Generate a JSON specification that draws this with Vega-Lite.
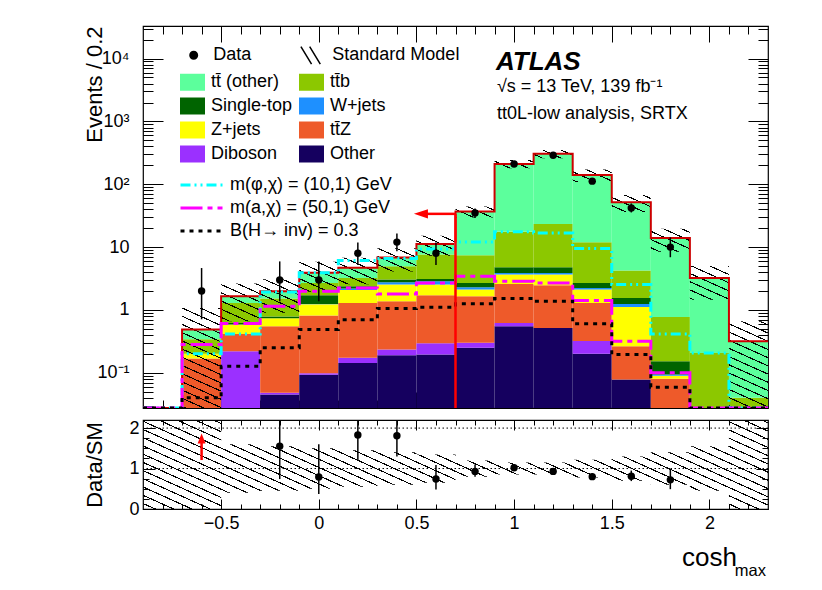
{
  "$schema": "https://vega.github.io/schema/vega-lite/v6.json",
  "background": "white",
  "padding": {"left": 82, "top": 25, "right": 55, "bottom": 0},
  "spacing": 12,
  "bounds": "flush",
  "datasets": {
    "bkg": [
      {"x0": -0.7, "x1": -0.5, "proc": "tt\u0304Z", "n": 0.168},
      {"x0": -0.7, "x1": -0.5, "proc": "Z+jets", "n": 0.032},
      {"x0": -0.7, "x1": -0.5, "proc": "tt\u0304b", "n": 0.14},
      {"x0": -0.7, "x1": -0.5, "proc": "tt\u0304 (other)", "n": 0.15},
      {"x0": -0.5, "x1": -0.3, "proc": "Diboson", "n": 0.22},
      {"x0": -0.5, "x1": -0.3, "proc": "tt\u0304Z", "n": 0.195},
      {"x0": -0.5, "x1": -0.3, "proc": "Z+jets", "n": 0.17},
      {"x0": -0.5, "x1": -0.3, "proc": "Single-top", "n": 0.035},
      {"x0": -0.5, "x1": -0.3, "proc": "tt\u0304b", "n": 0.67},
      {"x0": -0.5, "x1": -0.3, "proc": "tt\u0304 (other)", "n": 0.36},
      {"x0": -0.3, "x1": -0.1, "proc": "Other", "n": 0.045},
      {"x0": -0.3, "x1": -0.1, "proc": "Diboson", "n": 0.003},
      {"x0": -0.3, "x1": -0.1, "proc": "tt\u0304Z", "n": 0.5},
      {"x0": -0.3, "x1": -0.1, "proc": "Z+jets", "n": 0.19},
      {"x0": -0.3, "x1": -0.1, "proc": "Single-top", "n": 0.05},
      {"x0": -0.3, "x1": -0.1, "proc": "tt\u0304b", "n": 0.73},
      {"x0": -0.3, "x1": -0.1, "proc": "tt\u0304 (other)", "n": 0.47},
      {"x0": -0.1, "x1": 0.1, "proc": "Other", "n": 0.093},
      {"x0": -0.1, "x1": 0.1, "proc": "Diboson", "n": 0.005},
      {"x0": -0.1, "x1": 0.1, "proc": "tt\u0304Z", "n": 0.72},
      {"x0": -0.1, "x1": 0.1, "proc": "Z+jets", "n": 0.41},
      {"x0": -0.1, "x1": 0.1, "proc": "W+jets", "n": 0.02},
      {"x0": -0.1, "x1": 0.1, "proc": "Single-top", "n": 0.46},
      {"x0": -0.1, "x1": 0.1, "proc": "tt\u0304b", "n": 0.98},
      {"x0": -0.1, "x1": 0.1, "proc": "tt\u0304 (other)", "n": 1.2},
      {"x0": 0.1, "x1": 0.3, "proc": "Other", "n": 0.143},
      {"x0": 0.1, "x1": 0.3, "proc": "Diboson", "n": 0.03},
      {"x0": 0.1, "x1": 0.3, "proc": "tt\u0304Z", "n": 1.12},
      {"x0": 0.1, "x1": 0.3, "proc": "Z+jets", "n": 0.79},
      {"x0": 0.1, "x1": 0.3, "proc": "W+jets", "n": 0.11},
      {"x0": 0.1, "x1": 0.3, "proc": "Single-top", "n": 0.19},
      {"x0": 0.1, "x1": 0.3, "proc": "tt\u0304b", "n": 0.85},
      {"x0": 0.1, "x1": 0.3, "proc": "tt\u0304 (other)", "n": 1.44},
      {"x0": 0.3, "x1": 0.5, "proc": "Other", "n": 0.19},
      {"x0": 0.3, "x1": 0.5, "proc": "Diboson", "n": 0.044},
      {"x0": 0.3, "x1": 0.5, "proc": "tt\u0304Z", "n": 1.14},
      {"x0": 0.3, "x1": 0.5, "proc": "Z+jets", "n": 1.16},
      {"x0": 0.3, "x1": 0.5, "proc": "W+jets", "n": 0.22},
      {"x0": 0.3, "x1": 0.5, "proc": "Single-top", "n": 0.29},
      {"x0": 0.3, "x1": 0.5, "proc": "tt\u0304b", "n": 1.9},
      {"x0": 0.3, "x1": 0.5, "proc": "tt\u0304 (other)", "n": 1.9},
      {"x0": 0.5, "x1": 0.7, "proc": "Other", "n": 0.195},
      {"x0": 0.5, "x1": 0.7, "proc": "Diboson", "n": 0.1},
      {"x0": 0.5, "x1": 0.7, "proc": "tt\u0304Z", "n": 1.41},
      {"x0": 0.5, "x1": 0.7, "proc": "Z+jets", "n": 0.83},
      {"x0": 0.5, "x1": 0.7, "proc": "W+jets", "n": 0.33},
      {"x0": 0.5, "x1": 0.7, "proc": "Single-top", "n": 0.25},
      {"x0": 0.5, "x1": 0.7, "proc": "tt\u0304b", "n": 4.5},
      {"x0": 0.5, "x1": 0.7, "proc": "tt\u0304 (other)", "n": 3.6},
      {"x0": 0.7, "x1": 0.9, "proc": "Other", "n": 0.25},
      {"x0": 0.7, "x1": 0.9, "proc": "Diboson", "n": 0.05},
      {"x0": 0.7, "x1": 0.9, "proc": "tt\u0304Z", "n": 1.35},
      {"x0": 0.7, "x1": 0.9, "proc": "Z+jets", "n": 0.46},
      {"x0": 0.7, "x1": 0.9, "proc": "W+jets", "n": 0.19},
      {"x0": 0.7, "x1": 0.9, "proc": "Single-top", "n": 0.39},
      {"x0": 0.7, "x1": 0.9, "proc": "tt\u0304b", "n": 4.7},
      {"x0": 0.7, "x1": 0.9, "proc": "tt\u0304 (other)", "n": 29.6},
      {"x0": 0.9, "x1": 1.1, "proc": "Other", "n": 0.55},
      {"x0": 0.9, "x1": 1.1, "proc": "Diboson", "n": 0.07},
      {"x0": 0.9, "x1": 1.1, "proc": "tt\u0304Z", "n": 1.97},
      {"x0": 0.9, "x1": 1.1, "proc": "Z+jets", "n": 1.07},
      {"x0": 0.9, "x1": 1.1, "proc": "W+jets", "n": 0.22},
      {"x0": 0.9, "x1": 1.1, "proc": "Single-top", "n": 0.9},
      {"x0": 0.9, "x1": 1.1, "proc": "tt\u0304b", "n": 12.7},
      {"x0": 0.9, "x1": 1.1, "proc": "tt\u0304 (other)", "n": 193.5},
      {"x0": 1.1, "x1": 1.3, "proc": "Other", "n": 0.517},
      {"x0": 1.1, "x1": 1.3, "proc": "tt\u0304Z", "n": 1.95},
      {"x0": 1.1, "x1": 1.3, "proc": "Z+jets", "n": 1.19},
      {"x0": 1.1, "x1": 1.3, "proc": "W+jets", "n": 0.22},
      {"x0": 1.1, "x1": 1.3, "proc": "Single-top", "n": 0.9},
      {"x0": 1.1, "x1": 1.3, "proc": "tt\u0304b", "n": 18.6},
      {"x0": 1.1, "x1": 1.3, "proc": "tt\u0304 (other)", "n": 281.6},
      {"x0": 1.3, "x1": 1.5, "proc": "Other", "n": 0.2},
      {"x0": 1.3, "x1": 1.5, "proc": "Diboson", "n": 0.12},
      {"x0": 1.3, "x1": 1.5, "proc": "tt\u0304Z", "n": 0.97},
      {"x0": 1.3, "x1": 1.5, "proc": "Z+jets", "n": 0.82},
      {"x0": 1.3, "x1": 1.5, "proc": "W+jets", "n": 0.13},
      {"x0": 1.3, "x1": 1.5, "proc": "Single-top", "n": 0.45},
      {"x0": 1.3, "x1": 1.5, "proc": "tt\u0304b", "n": 9.3},
      {"x0": 1.3, "x1": 1.5, "proc": "tt\u0304 (other)", "n": 128},
      {"x0": 1.5, "x1": 1.7, "proc": "Other", "n": 0.078},
      {"x0": 1.5, "x1": 1.7, "proc": "tt\u0304Z", "n": 0.186},
      {"x0": 1.5, "x1": 1.7, "proc": "Z+jets", "n": 0.85},
      {"x0": 1.5, "x1": 1.7, "proc": "W+jets", "n": 0.13},
      {"x0": 1.5, "x1": 1.7, "proc": "Single-top", "n": 0.3},
      {"x0": 1.5, "x1": 1.7, "proc": "tt\u0304b", "n": 2.69},
      {"x0": 1.5, "x1": 1.7, "proc": "tt\u0304 (other)", "n": 47.7},
      {"x0": 1.7, "x1": 1.9, "proc": "tt\u0304Z", "n": 0.08},
      {"x0": 1.7, "x1": 1.9, "proc": "Z+jets", "n": 0.01},
      {"x0": 1.7, "x1": 1.9, "proc": "W+jets", "n": 0.004},
      {"x0": 1.7, "x1": 1.9, "proc": "Single-top", "n": 0.059},
      {"x0": 1.7, "x1": 1.9, "proc": "tt\u0304b", "n": 0.62},
      {"x0": 1.7, "x1": 1.9, "proc": "tt\u0304 (other)", "n": 13.2},
      {"x0": 1.9, "x1": 2.1, "proc": "tt\u0304b", "n": 0.207},
      {"x0": 1.9, "x1": 2.1, "proc": "tt\u0304 (other)", "n": 3.02},
      {"x0": 2.1, "x1": 2.3, "proc": "tt\u0304b", "n": 0.04},
      {"x0": 2.1, "x1": 2.3, "proc": "tt\u0304 (other)", "n": 0.278}
    ],
    "unc": [
      {"x": -0.7, "lo": 0.0275, "hi": 1.07},
      {"x": -0.5, "lo": 0.66, "hi": 2.64},
      {"x": -0.3, "lo": 0.9, "hi": 3.08},
      {"x": -0.1, "lo": 1.95, "hi": 5.83},
      {"x": 0.1, "lo": 2.57, "hi": 6.77},
      {"x": 0.3, "lo": 4.1, "hi": 9.58},
      {"x": 0.5, "lo": 7.28, "hi": 15.1},
      {"x": 0.7, "lo": 29.6, "hi": 44.4},
      {"x": 0.9, "lo": 179, "hi": 243},
      {"x": 1.1, "lo": 259, "hi": 351},
      {"x": 1.3, "lo": 109, "hi": 171},
      {"x": 1.5, "lo": 36.3, "hi": 67.5},
      {"x": 1.7, "lo": 8.4, "hi": 19.6},
      {"x": 1.9, "lo": 1.45, "hi": 5.0},
      {"x": 2.1, "lo": 0.0275, "hi": 0.66},
      {"x": 2.3, "lo": 0.0275, "hi": 0.66}
    ],
    "sm": [
      {"x": -0.9, "v": 0.0275}, {"x": -0.7, "v": 0.49}, {"x": -0.5, "v": 1.65}, {"x": -0.3, "v": 1.99},
      {"x": -0.1, "v": 3.89}, {"x": 0.1, "v": 4.67}, {"x": 0.3, "v": 6.84}, {"x": 0.5, "v": 11.2},
      {"x": 0.7, "v": 37}, {"x": 0.9, "v": 211}, {"x": 1.1, "v": 305}, {"x": 1.3, "v": 140},
      {"x": 1.5, "v": 51.9}, {"x": 1.7, "v": 14.0}, {"x": 1.9, "v": 3.23}, {"x": 2.1, "v": 0.318},
      {"x": 2.3, "v": 0.318}
    ],
    "sig": [
      {"x": -0.9, "sig": "m(φ,χ) = (10,1) GeV", "v": 0.0275},
      {"x": -0.7, "sig": "m(φ,χ) = (10,1) GeV", "v": 0.2},
      {"x": -0.5, "sig": "m(φ,χ) = (10,1) GeV", "v": 0.415},
      {"x": -0.3, "sig": "m(φ,χ) = (10,1) GeV", "v": 1.93},
      {"x": -0.1, "sig": "m(φ,χ) = (10,1) GeV", "v": 3.9},
      {"x": 0.1, "sig": "m(φ,χ) = (10,1) GeV", "v": 6.1},
      {"x": 0.3, "sig": "m(φ,χ) = (10,1) GeV", "v": 6.6},
      {"x": 0.5, "sig": "m(φ,χ) = (10,1) GeV", "v": 9.3},
      {"x": 0.7, "sig": "m(φ,χ) = (10,1) GeV", "v": 12.1},
      {"x": 0.9, "sig": "m(φ,χ) = (10,1) GeV", "v": 17.5},
      {"x": 1.1, "sig": "m(φ,χ) = (10,1) GeV", "v": 16.8},
      {"x": 1.3, "sig": "m(φ,χ) = (10,1) GeV", "v": 9.5},
      {"x": 1.5, "sig": "m(φ,χ) = (10,1) GeV", "v": 2.54},
      {"x": 1.7, "sig": "m(φ,χ) = (10,1) GeV", "v": 0.415},
      {"x": 1.9, "sig": "m(φ,χ) = (10,1) GeV", "v": 0.207},
      {"x": 2.1, "sig": "m(φ,χ) = (10,1) GeV", "v": 0.0275},
      {"x": 2.3, "sig": "m(φ,χ) = (10,1) GeV", "v": 0.0275},
      {"x": -0.9, "sig": "m(a,χ) = (50,1) GeV", "v": 0.0275},
      {"x": -0.7, "sig": "m(a,χ) = (50,1) GeV", "v": 0.281},
      {"x": -0.5, "sig": "m(a,χ) = (50,1) GeV", "v": 0.61},
      {"x": -0.3, "sig": "m(a,χ) = (50,1) GeV", "v": 1.14},
      {"x": -0.1, "sig": "m(a,χ) = (50,1) GeV", "v": 1.99},
      {"x": 0.1, "sig": "m(a,χ) = (50,1) GeV", "v": 2.24},
      {"x": 0.3, "sig": "m(a,χ) = (50,1) GeV", "v": 1.8},
      {"x": 0.5, "sig": "m(a,χ) = (50,1) GeV", "v": 2.69},
      {"x": 0.7, "sig": "m(a,χ) = (50,1) GeV", "v": 3.44},
      {"x": 0.9, "sig": "m(a,χ) = (50,1) GeV", "v": 2.86},
      {"x": 1.1, "sig": "m(a,χ) = (50,1) GeV", "v": 2.69},
      {"x": 1.3, "sig": "m(a,χ) = (50,1) GeV", "v": 1.41},
      {"x": 1.5, "sig": "m(a,χ) = (50,1) GeV", "v": 0.318},
      {"x": 1.7, "sig": "m(a,χ) = (50,1) GeV", "v": 0.1},
      {"x": 1.9, "sig": "m(a,χ) = (50,1) GeV", "v": 0.0275},
      {"x": 2.1, "sig": "m(a,χ) = (50,1) GeV", "v": 0.0275},
      {"x": 2.3, "sig": "m(a,χ) = (50,1) GeV", "v": 0.0275},
      {"x": -0.9, "sig": "B(H→ inv) = 0.3", "v": 0.0275},
      {"x": -0.7, "sig": "B(H→ inv) = 0.3", "v": 0.04},
      {"x": -0.5, "sig": "B(H→ inv) = 0.3", "v": 0.127},
      {"x": -0.3, "sig": "B(H→ inv) = 0.3", "v": 0.25},
      {"x": -0.1, "sig": "B(H→ inv) = 0.3", "v": 0.49},
      {"x": 0.1, "sig": "B(H→ inv) = 0.3", "v": 0.7},
      {"x": 0.3, "sig": "B(H→ inv) = 0.3", "v": 1.05},
      {"x": 0.5, "sig": "B(H→ inv) = 0.3", "v": 1.1},
      {"x": 0.7, "sig": "B(H→ inv) = 0.3", "v": 1.25},
      {"x": 0.9, "sig": "B(H→ inv) = 0.3", "v": 1.52},
      {"x": 1.1, "sig": "B(H→ inv) = 0.3", "v": 1.38},
      {"x": 1.3, "sig": "B(H→ inv) = 0.3", "v": 0.6},
      {"x": 1.5, "sig": "B(H→ inv) = 0.3", "v": 0.195},
      {"x": 1.7, "sig": "B(H→ inv) = 0.3", "v": 0.059},
      {"x": 1.9, "sig": "B(H→ inv) = 0.3", "v": 0.0275},
      {"x": 2.1, "sig": "B(H→ inv) = 0.3", "v": 0.0275},
      {"x": 2.3, "sig": "B(H→ inv) = 0.3", "v": 0.0275}
    ],
    "data": [
      {"x": -0.6, "n": 2, "lo": 0.71, "hi": 4.64, "src": "Data"},
      {"x": -0.2, "n": 3, "lo": 1.37, "hi": 5.92, "src": "Data"},
      {"x": 0.0, "n": 3, "lo": 1.37, "hi": 5.92, "src": "Data"},
      {"x": 0.2, "n": 8, "lo": 5.2, "hi": 11.8, "src": "Data"},
      {"x": 0.4, "n": 12, "lo": 8.6, "hi": 16.5, "src": "Data"},
      {"x": 0.6, "n": 8, "lo": 5.2, "hi": 11.8, "src": "Data"},
      {"x": 0.8, "n": 35, "lo": 29.1, "hi": 41.0, "src": "Data"},
      {"x": 1.0, "n": 210, "lo": 195.6, "hi": 225.0, "src": "Data"},
      {"x": 1.2, "n": 290, "lo": 273.1, "hi": 307.6, "src": "Data"},
      {"x": 1.4, "n": 112, "lo": 101.5, "hi": 123.1, "src": "Data"},
      {"x": 1.6, "n": 42, "lo": 35.6, "hi": 49.5, "src": "Data"},
      {"x": 1.8, "n": 10, "lo": 6.9, "hi": 14.3, "src": "Data"}
    ],
    "ratio": [
      {"x": -0.2, "r": 1.55, "lo": 0.74, "hi": 2.97},
      {"x": 0.0, "r": 0.79, "lo": 0.37, "hi": 1.6},
      {"x": 0.2, "r": 1.83, "lo": 1.21, "hi": 2.7},
      {"x": 0.4, "r": 1.81, "lo": 1.3, "hi": 2.5},
      {"x": 0.6, "r": 0.74, "lo": 0.48, "hi": 1.09},
      {"x": 0.8, "r": 0.93, "lo": 0.8, "hi": 1.1},
      {"x": 1.0, "r": 1.02, "lo": 0.95, "hi": 1.09},
      {"x": 1.2, "r": 0.93, "lo": 0.88, "hi": 0.99},
      {"x": 1.4, "r": 0.8, "lo": 0.73, "hi": 0.88},
      {"x": 1.6, "r": 0.81, "lo": 0.69, "hi": 0.95},
      {"x": 1.8, "r": 0.72, "lo": 0.49, "hi": 0.98}
    ],
    "rband": [
      {"x": -0.9, "lo": 0, "hi": 2.2},
      {"x": -0.7, "lo": 0, "hi": 2.2},
      {"x": -0.5, "lo": 0.4, "hi": 1.6},
      {"x": -0.3, "lo": 0.45, "hi": 1.55},
      {"x": -0.1, "lo": 0.5, "hi": 1.5},
      {"x": 0.1, "lo": 0.55, "hi": 1.45},
      {"x": 0.3, "lo": 0.6, "hi": 1.4},
      {"x": 0.5, "lo": 0.65, "hi": 1.35},
      {"x": 0.7, "lo": 0.8, "hi": 1.2},
      {"x": 0.9, "lo": 0.85, "hi": 1.15},
      {"x": 1.1, "lo": 0.85, "hi": 1.15},
      {"x": 1.3, "lo": 0.78, "hi": 1.22},
      {"x": 1.5, "lo": 0.7, "hi": 1.3},
      {"x": 1.7, "lo": 0.6, "hi": 1.4},
      {"x": 1.9, "lo": 0.45, "hi": 1.55},
      {"x": 2.1, "lo": 0, "hi": 2.2},
      {"x": 2.3, "lo": 0, "hi": 2.2}
    ]
  },
  "vconcat": [
    {
      "width": 625,
      "height": 382,
      "layer": [
        {
          "layer": [
            {
              "data": {"name": "bkg"},
              "transform": [
                {"calculate": "indexof(['Other','Diboson','tt\u0304Z','Z+jets','W+jets','Single-top','tt\u0304b','tt\u0304 (other)'], datum.proc)", "as": "k"},
                {"stack": "n", "groupby": ["x0"], "sort": [{"field": "k", "order": "ascending"}], "as": ["n0", "n1"]}
              ],
              "mark": {"type": "bar", "clip": true},
              "encoding": {
                "x": {
                  "field": "x0", "type": "quantitative",
                  "scale": {"domain": [-0.9, 2.3], "nice": false, "zero": false},
                  "axis": {"orient": "bottom", "labels": false, "title": null, "domain": false, "ticks": false, "tickSize": 0,
                    "values": [-0.5, 0, 0.5, 1, 1.5, 2],
                    "grid": true, "gridColor": "black", "gridWidth": 1, "gridOpacity": 1, "gridDash": [16, 350, 16, 2000]}
                },
                "x2": {"field": "x1"},
                "y": {
                  "field": "n1", "type": "quantitative",
                  "scale": {"type": "log", "domain": [0.0275, 33000], "nice": false, "clamp": true},
                  "axis": {
                    "orient": "left", "title": "Events / 0.2", "titleAnchor": "end", "titleX": -42, "titleBaseline": "alphabetic",
                    "domain": false, "ticks": false, "tickSize": 0, "labelPadding": 14,
                    "values": [0.1, 1, 10, 100, 1000, 10000],
                    "labelExpr": "datum.value==10000?'10⁴':datum.value==1000?'10³':datum.value==100?'10²':datum.value==10?'10':datum.value==1?'1':'10⁻¹'",
                    "grid": true, "gridColor": "black", "gridWidth": 1, "gridOpacity": 1, "gridDash": [20, 585, 20, 2000]
                  }
                },
                "y2": {"field": "n0"},
                "fill": {
                  "field": "proc", "type": "nominal",
                  "scale": {
                    "domain": ["tt\u0304 (other)", "Single-top", "Z+jets", "Diboson", "tt\u0304b", "W+jets", "tt\u0304Z", "Other"],
                    "range": ["#5cff9c", "#006400", "#ffff00", "#9b30ff", "#8cc800", "#1e90ff", "#ee5a2a", "#15005f"]
                  },
                  "legend": {
                    "orient": "none", "legendX": 37, "legendY": 43.5, "columns": 2, "columnPadding": 6, "rowPadding": 2,
                    "symbolType": "M-1,-0.68H1V0.68H-1Z", "symbolSize": 625, "symbolStrokeWidth": 0, "labelOffset": 6, "title": null
                  }
                }
              }
            },
            {
              "data": {"name": "unc"},
              "mark": {
                "type": "area", "orient": "vertical", "interpolate": "step-after", "clip": true, "opacity": 1,
                "fill": {
                  "gradient": "linear", "x1": 1, "y1": 0, "x2": -0.0093, "y2": 0.9905,
                  "stops": [
                    {"offset":0.004,"color":"rgba(0,0,0,0)"},{"offset":0.004,"color":"#000"},{"offset":0.0063,"color":"#000"},{"offset":0.0063,"color":"rgba(0,0,0,0)"},
                    {"offset":0.0197,"color":"rgba(0,0,0,0)"},{"offset":0.0197,"color":"#000"},{"offset":0.022,"color":"#000"},{"offset":0.022,"color":"rgba(0,0,0,0)"},
                    {"offset":0.0355,"color":"rgba(0,0,0,0)"},{"offset":0.0355,"color":"#000"},{"offset":0.0378,"color":"#000"},{"offset":0.0378,"color":"rgba(0,0,0,0)"},
                    {"offset":0.0512,"color":"rgba(0,0,0,0)"},{"offset":0.0512,"color":"#000"},{"offset":0.0535,"color":"#000"},{"offset":0.0535,"color":"rgba(0,0,0,0)"},
                    {"offset":0.067,"color":"rgba(0,0,0,0)"},{"offset":0.067,"color":"#000"},{"offset":0.0693,"color":"#000"},{"offset":0.0693,"color":"rgba(0,0,0,0)"},
                    {"offset":0.0827,"color":"rgba(0,0,0,0)"},{"offset":0.0827,"color":"#000"},{"offset":0.085,"color":"#000"},{"offset":0.085,"color":"rgba(0,0,0,0)"},
                    {"offset":0.0985,"color":"rgba(0,0,0,0)"},{"offset":0.0985,"color":"#000"},{"offset":0.1008,"color":"#000"},{"offset":0.1008,"color":"rgba(0,0,0,0)"},
                    {"offset":0.1142,"color":"rgba(0,0,0,0)"},{"offset":0.1142,"color":"#000"},{"offset":0.1165,"color":"#000"},{"offset":0.1165,"color":"rgba(0,0,0,0)"},
                    {"offset":0.13,"color":"rgba(0,0,0,0)"},{"offset":0.13,"color":"#000"},{"offset":0.1323,"color":"#000"},{"offset":0.1323,"color":"rgba(0,0,0,0)"},
                    {"offset":0.1457,"color":"rgba(0,0,0,0)"},{"offset":0.1457,"color":"#000"},{"offset":0.148,"color":"#000"},{"offset":0.148,"color":"rgba(0,0,0,0)"},
                    {"offset":0.1614,"color":"rgba(0,0,0,0)"},{"offset":0.1614,"color":"#000"},{"offset":0.1637,"color":"#000"},{"offset":0.1637,"color":"rgba(0,0,0,0)"},
                    {"offset":0.1772,"color":"rgba(0,0,0,0)"},{"offset":0.1772,"color":"#000"},{"offset":0.1795,"color":"#000"},{"offset":0.1795,"color":"rgba(0,0,0,0)"},
                    {"offset":0.1929,"color":"rgba(0,0,0,0)"},{"offset":0.1929,"color":"#000"},{"offset":0.1952,"color":"#000"},{"offset":0.1952,"color":"rgba(0,0,0,0)"},
                    {"offset":0.2087,"color":"rgba(0,0,0,0)"},{"offset":0.2087,"color":"#000"},{"offset":0.211,"color":"#000"},{"offset":0.211,"color":"rgba(0,0,0,0)"},
                    {"offset":0.2244,"color":"rgba(0,0,0,0)"},{"offset":0.2244,"color":"#000"},{"offset":0.2267,"color":"#000"},{"offset":0.2267,"color":"rgba(0,0,0,0)"},
                    {"offset":0.2402,"color":"rgba(0,0,0,0)"},{"offset":0.2402,"color":"#000"},{"offset":0.2425,"color":"#000"},{"offset":0.2425,"color":"rgba(0,0,0,0)"},
                    {"offset":0.2559,"color":"rgba(0,0,0,0)"},{"offset":0.2559,"color":"#000"},{"offset":0.2582,"color":"#000"},{"offset":0.2582,"color":"rgba(0,0,0,0)"},
                    {"offset":0.2716,"color":"rgba(0,0,0,0)"},{"offset":0.2716,"color":"#000"},{"offset":0.2739,"color":"#000"},{"offset":0.2739,"color":"rgba(0,0,0,0)"},
                    {"offset":0.2874,"color":"rgba(0,0,0,0)"},{"offset":0.2874,"color":"#000"},{"offset":0.2897,"color":"#000"},{"offset":0.2897,"color":"rgba(0,0,0,0)"},
                    {"offset":0.3031,"color":"rgba(0,0,0,0)"},{"offset":0.3031,"color":"#000"},{"offset":0.3054,"color":"#000"},{"offset":0.3054,"color":"rgba(0,0,0,0)"},
                    {"offset":0.3189,"color":"rgba(0,0,0,0)"},{"offset":0.3189,"color":"#000"},{"offset":0.3212,"color":"#000"},{"offset":0.3212,"color":"rgba(0,0,0,0)"},
                    {"offset":0.3346,"color":"rgba(0,0,0,0)"},{"offset":0.3346,"color":"#000"},{"offset":0.3369,"color":"#000"},{"offset":0.3369,"color":"rgba(0,0,0,0)"},
                    {"offset":0.3504,"color":"rgba(0,0,0,0)"},{"offset":0.3504,"color":"#000"},{"offset":0.3527,"color":"#000"},{"offset":0.3527,"color":"rgba(0,0,0,0)"},
                    {"offset":0.3661,"color":"rgba(0,0,0,0)"},{"offset":0.3661,"color":"#000"},{"offset":0.3684,"color":"#000"},{"offset":0.3684,"color":"rgba(0,0,0,0)"},
                    {"offset":0.3819,"color":"rgba(0,0,0,0)"},{"offset":0.3819,"color":"#000"},{"offset":0.3842,"color":"#000"},{"offset":0.3842,"color":"rgba(0,0,0,0)"},
                    {"offset":0.3976,"color":"rgba(0,0,0,0)"},{"offset":0.3976,"color":"#000"},{"offset":0.3999,"color":"#000"},{"offset":0.3999,"color":"rgba(0,0,0,0)"},
                    {"offset":0.4133,"color":"rgba(0,0,0,0)"},{"offset":0.4133,"color":"#000"},{"offset":0.4156,"color":"#000"},{"offset":0.4156,"color":"rgba(0,0,0,0)"},
                    {"offset":0.4291,"color":"rgba(0,0,0,0)"},{"offset":0.4291,"color":"#000"},{"offset":0.4314,"color":"#000"},{"offset":0.4314,"color":"rgba(0,0,0,0)"},
                    {"offset":0.4448,"color":"rgba(0,0,0,0)"},{"offset":0.4448,"color":"#000"},{"offset":0.4471,"color":"#000"},{"offset":0.4471,"color":"rgba(0,0,0,0)"},
                    {"offset":0.4606,"color":"rgba(0,0,0,0)"},{"offset":0.4606,"color":"#000"},{"offset":0.4629,"color":"#000"},{"offset":0.4629,"color":"rgba(0,0,0,0)"},
                    {"offset":0.4763,"color":"rgba(0,0,0,0)"},{"offset":0.4763,"color":"#000"},{"offset":0.4786,"color":"#000"},{"offset":0.4786,"color":"rgba(0,0,0,0)"},
                    {"offset":0.4921,"color":"rgba(0,0,0,0)"},{"offset":0.4921,"color":"#000"},{"offset":0.4944,"color":"#000"},{"offset":0.4944,"color":"rgba(0,0,0,0)"},
                    {"offset":0.5078,"color":"rgba(0,0,0,0)"},{"offset":0.5078,"color":"#000"},{"offset":0.5101,"color":"#000"},{"offset":0.5101,"color":"rgba(0,0,0,0)"},
                    {"offset":0.5236,"color":"rgba(0,0,0,0)"},{"offset":0.5236,"color":"#000"},{"offset":0.5259,"color":"#000"},{"offset":0.5259,"color":"rgba(0,0,0,0)"},
                    {"offset":0.5393,"color":"rgba(0,0,0,0)"},{"offset":0.5393,"color":"#000"},{"offset":0.5416,"color":"#000"},{"offset":0.5416,"color":"rgba(0,0,0,0)"},
                    {"offset":0.555,"color":"rgba(0,0,0,0)"},{"offset":0.555,"color":"#000"},{"offset":0.5573,"color":"#000"},{"offset":0.5573,"color":"rgba(0,0,0,0)"},
                    {"offset":0.5708,"color":"rgba(0,0,0,0)"},{"offset":0.5708,"color":"#000"},{"offset":0.5731,"color":"#000"},{"offset":0.5731,"color":"rgba(0,0,0,0)"},
                    {"offset":0.5865,"color":"rgba(0,0,0,0)"},{"offset":0.5865,"color":"#000"},{"offset":0.5888,"color":"#000"},{"offset":0.5888,"color":"rgba(0,0,0,0)"},
                    {"offset":0.6023,"color":"rgba(0,0,0,0)"},{"offset":0.6023,"color":"#000"},{"offset":0.6046,"color":"#000"},{"offset":0.6046,"color":"rgba(0,0,0,0)"},
                    {"offset":0.618,"color":"rgba(0,0,0,0)"},{"offset":0.618,"color":"#000"},{"offset":0.6203,"color":"#000"},{"offset":0.6203,"color":"rgba(0,0,0,0)"},
                    {"offset":0.6338,"color":"rgba(0,0,0,0)"},{"offset":0.6338,"color":"#000"},{"offset":0.6361,"color":"#000"},{"offset":0.6361,"color":"rgba(0,0,0,0)"},
                    {"offset":0.6495,"color":"rgba(0,0,0,0)"},{"offset":0.6495,"color":"#000"},{"offset":0.6518,"color":"#000"},{"offset":0.6518,"color":"rgba(0,0,0,0)"},
                    {"offset":0.6652,"color":"rgba(0,0,0,0)"},{"offset":0.6652,"color":"#000"},{"offset":0.6675,"color":"#000"},{"offset":0.6675,"color":"rgba(0,0,0,0)"},
                    {"offset":0.681,"color":"rgba(0,0,0,0)"},{"offset":0.681,"color":"#000"},{"offset":0.6833,"color":"#000"},{"offset":0.6833,"color":"rgba(0,0,0,0)"},
                    {"offset":0.6967,"color":"rgba(0,0,0,0)"},{"offset":0.6967,"color":"#000"},{"offset":0.699,"color":"#000"},{"offset":0.699,"color":"rgba(0,0,0,0)"},
                    {"offset":0.7125,"color":"rgba(0,0,0,0)"},{"offset":0.7125,"color":"#000"},{"offset":0.7148,"color":"#000"},{"offset":0.7148,"color":"rgba(0,0,0,0)"},
                    {"offset":0.7282,"color":"rgba(0,0,0,0)"},{"offset":0.7282,"color":"#000"},{"offset":0.7305,"color":"#000"},{"offset":0.7305,"color":"rgba(0,0,0,0)"},
                    {"offset":0.744,"color":"rgba(0,0,0,0)"},{"offset":0.744,"color":"#000"},{"offset":0.7463,"color":"#000"},{"offset":0.7463,"color":"rgba(0,0,0,0)"},
                    {"offset":0.7597,"color":"rgba(0,0,0,0)"},{"offset":0.7597,"color":"#000"},{"offset":0.762,"color":"#000"},{"offset":0.762,"color":"rgba(0,0,0,0)"},
                    {"offset":0.7755,"color":"rgba(0,0,0,0)"},{"offset":0.7755,"color":"#000"},{"offset":0.7778,"color":"#000"},{"offset":0.7778,"color":"rgba(0,0,0,0)"},
                    {"offset":0.7912,"color":"rgba(0,0,0,0)"},{"offset":0.7912,"color":"#000"},{"offset":0.7935,"color":"#000"},{"offset":0.7935,"color":"rgba(0,0,0,0)"},
                    {"offset":0.8069,"color":"rgba(0,0,0,0)"},{"offset":0.8069,"color":"#000"},{"offset":0.8092,"color":"#000"},{"offset":0.8092,"color":"rgba(0,0,0,0)"},
                    {"offset":0.8227,"color":"rgba(0,0,0,0)"},{"offset":0.8227,"color":"#000"},{"offset":0.825,"color":"#000"},{"offset":0.825,"color":"rgba(0,0,0,0)"},
                    {"offset":0.8384,"color":"rgba(0,0,0,0)"},{"offset":0.8384,"color":"#000"},{"offset":0.8407,"color":"#000"},{"offset":0.8407,"color":"rgba(0,0,0,0)"},
                    {"offset":0.8542,"color":"rgba(0,0,0,0)"},{"offset":0.8542,"color":"#000"},{"offset":0.8565,"color":"#000"},{"offset":0.8565,"color":"rgba(0,0,0,0)"},
                    {"offset":0.8699,"color":"rgba(0,0,0,0)"},{"offset":0.8699,"color":"#000"},{"offset":0.8722,"color":"#000"},{"offset":0.8722,"color":"rgba(0,0,0,0)"},
                    {"offset":0.8857,"color":"rgba(0,0,0,0)"},{"offset":0.8857,"color":"#000"},{"offset":0.888,"color":"#000"},{"offset":0.888,"color":"rgba(0,0,0,0)"},
                    {"offset":0.9014,"color":"rgba(0,0,0,0)"},{"offset":0.9014,"color":"#000"},{"offset":0.9037,"color":"#000"},{"offset":0.9037,"color":"rgba(0,0,0,0)"},
                    {"offset":0.9172,"color":"rgba(0,0,0,0)"},{"offset":0.9172,"color":"#000"},{"offset":0.9195,"color":"#000"},{"offset":0.9195,"color":"rgba(0,0,0,0)"},
                    {"offset":0.9329,"color":"rgba(0,0,0,0)"},{"offset":0.9329,"color":"#000"},{"offset":0.9352,"color":"#000"},{"offset":0.9352,"color":"rgba(0,0,0,0)"},
                    {"offset":0.9486,"color":"rgba(0,0,0,0)"},{"offset":0.9486,"color":"#000"},{"offset":0.9509,"color":"#000"},{"offset":0.9509,"color":"rgba(0,0,0,0)"},
                    {"offset":0.9644,"color":"rgba(0,0,0,0)"},{"offset":0.9644,"color":"#000"},{"offset":0.9667,"color":"#000"},{"offset":0.9667,"color":"rgba(0,0,0,0)"},
                    {"offset":0.9801,"color":"rgba(0,0,0,0)"},{"offset":0.9801,"color":"#000"},{"offset":0.9824,"color":"#000"},{"offset":0.9824,"color":"rgba(0,0,0,0)"},
                    {"offset":0.9959,"color":"rgba(0,0,0,0)"},{"offset":0.9959,"color":"#000"},{"offset":0.9982,"color":"#000"},{"offset":0.9982,"color":"rgba(0,0,0,0)"}
                  ]
                }
              },
              "encoding": {
                "x": {"field": "x", "type": "quantitative"},
                "y": {"field": "hi", "type": "quantitative"},
                "y2": {"field": "lo"}
              }
            },
            {
              "data": {"name": "sm"},
              "mark": {"type": "line", "interpolate": "step-after", "clip": true, "color": "#cc0000", "strokeWidth": 2},
              "encoding": {
                "x": {"field": "x", "type": "quantitative"},
                "y": {"field": "v", "type": "quantitative"}
              }
            },
            {
              "data": {"name": "sig"},
              "mark": {"type": "line", "interpolate": "step-after", "clip": true},
              "encoding": {
                "x": {"field": "x", "type": "quantitative"},
                "y": {"field": "v", "type": "quantitative"},
                "stroke": {
                  "field": "sig", "type": "nominal",
                  "scale": {"domain": ["m(φ,χ) = (10,1) GeV", "m(a,χ) = (50,1) GeV", "B(H→ inv) = 0.3"], "range": ["#00ffff", "#ff00ff", "#000000"]},
                  "legend": {"orient": "none", "legendX": 46.5, "legendY": 147, "rowPadding": 2, "symbolType": "M-2,0H2", "symbolSize": 441, "symbolStrokeWidth": 3, "labelOffset": 16.5, "title": null}
                },
                "strokeDash": {
                  "field": "sig", "type": "nominal",
                  "scale": {"domain": ["m(φ,χ) = (10,1) GeV", "m(a,χ) = (50,1) GeV", "B(H→ inv) = 0.3"], "range": [[10, 4, 2, 4, 2, 4], [22, 5, 5, 5], [4, 5]]},
                  "legend": {"orient": "none", "legendX": 46.5, "legendY": 147, "rowPadding": 2, "symbolType": "M-2,0H2", "symbolSize": 441, "symbolStrokeWidth": 3, "labelOffset": 16.5, "title": null}
                },
                "strokeWidth": {
                  "field": "sig", "type": "nominal",
                  "scale": {"domain": ["m(φ,χ) = (10,1) GeV", "m(a,χ) = (50,1) GeV", "B(H→ inv) = 0.3"], "range": [3, 3, 3.5]},
                  "legend": null
                }
              }
            },
            {
              "data": {"name": "data"},
              "mark": {"type": "rule", "color": "black", "strokeWidth": 1.5, "clip": true},
              "encoding": {
                "x": {"field": "x", "type": "quantitative"},
                "y": {"field": "lo", "type": "quantitative"},
                "y2": {"field": "hi"}
              }
            },
            {
              "data": {"name": "data"},
              "mark": {"type": "point", "filled": true, "color": "black", "size": 55, "opacity": 1},
              "encoding": {
                "x": {"field": "x", "type": "quantitative"},
                "y": {"field": "n", "type": "quantitative"}
              }
            },
            {
              "data": {"name": "data"},
              "transform": [{"filter": "false"}],
              "mark": {"type": "point", "filled": true, "color": "black", "opacity": 1},
              "encoding": {
                "x": {"field": "x", "type": "quantitative"},
                "y": {"field": "n", "type": "quantitative"},
                "shape": {
                  "field": "src", "type": "nominal",
                  "scale": {"domain": ["Data"], "range": ["M0,-0.5L0,0.5M-0.36,0A0.36,0.36 0 1,0 0.36,0A0.36,0.36 0 1,0 -0.36,0Z"]},
                  "legend": {"orient": "none", "legendX": 37.2, "legendY": 15.8, "symbolSize": 625, "symbolFillColor": "black", "symbolStrokeColor": "black", "symbolStrokeWidth": 1.5, "symbolOpacity": 1, "labelOffset": 6, "title": null}
                }
              }
            },
            {
              "data": {"name": "data"},
              "transform": [{"filter": "false"}],
              "mark": {"type": "point", "opacity": 1},
              "encoding": {
                "x": {"field": "x", "type": "quantitative"},
                "y": {"field": "n", "type": "quantitative"},
                "opacity": {
                  "field": "src", "type": "ordinal",
                  "scale": {"domain": ["Standard Model"], "range": [1]},
                  "legend": {"orient": "none", "legendX": 156.3, "legendY": 15.8, "symbolType": "M-0.95,-0.7L-0.1,0.7M-0.25,-0.7L0.6,0.7", "symbolSize": 625, "symbolFillColor": "transparent", "symbolStrokeColor": "black", "symbolStrokeWidth": 1.5, "symbolOpacity": 1, "labelOffset": 6, "title": null}
                }
              }
            },
            {
              "data": {"name": "data"},
              "transform": [{"filter": "false"}],
              "mark": {"type": "point", "opacity": 1},
              "encoding": {
                "x": {"field": "x", "type": "quantitative"},
                "y": {"field": "n", "type": "quantitative"},
                "strokeWidth": {
                  "field": "smline", "type": "ordinal",
                  "scale": {"domain": ["Standard Model"], "range": [2.2]},
                  "legend": {"orient": "none", "legendX": 156.3, "legendY": 15.8, "symbolType": "M-1,0H1", "symbolSize": 625, "symbolFillColor": "transparent", "symbolStrokeColor": "#cc0000", "symbolOpacity": 1, "labelOffset": 6, "labelColor": "rgba(0,0,0,0)", "title": null}
                }
              }
            },
            {
              "data": {"values": [{}]},
              "mark": {"type": "rule", "color": "#ff0000", "strokeWidth": 2.5},
              "encoding": {
                "x": {"datum": 0.7},
                "y": {"datum": 0.0275},
                "y2": {"datum": 33.8}
              }
            },
            {
              "data": {"values": [{}]},
              "mark": {"type": "rule", "color": "#ff0000", "strokeWidth": 2.5},
              "encoding": {
                "x": {"datum": 0.7},
                "x2": {"datum": 0.55},
                "y": {"datum": 33.8}
              }
            },
            {
              "data": {"values": [{}]},
              "mark": {"type": "point", "shape": "M-1,0L1,-0.65L1,0.65Z", "filled": true, "color": "#ff0000", "size": 196, "opacity": 1},
              "encoding": {
                "x": {"datum": 0.523},
                "y": {"datum": 33.8}
              }
            },
            {
              "data": {"values": [{}]},
              "mark": {"type": "text", "text": "ATLAS", "fontSize": 26, "fontWeight": "bold", "fontStyle": "italic", "align": "left", "baseline": "alphabetic", "color": "black"},
              "encoding": {
                "x": {"datum": 0.907},
                "y": {"datum": 6510}
              }
            },
            {
              "data": {"values": [{}]},
              "mark": {"type": "text", "text": "√s = 13 TeV, 139 fb⁻¹", "fontSize": 18, "align": "left", "baseline": "alphabetic", "color": "black"},
              "encoding": {
                "x": {"datum": 0.912},
                "y": {"datum": 2939}
              }
            },
            {
              "data": {"values": [{}]},
              "mark": {"type": "text", "text": "tt0L-low analysis, SRTX", "fontSize": 18, "align": "left", "baseline": "alphabetic", "color": "black"},
              "encoding": {
                "x": {"datum": 0.912},
                "y": {"datum": 1093}
              }
            }
          ]
        },
        {
          "data": {"name": "data"},
          "mark": {"type": "point", "opacity": 0},
          "encoding": {
            "x": {
              "field": "x", "type": "quantitative",
              "scale": {"domain": [-0.9, 2.3], "nice": false, "zero": false},
              "axis": {"orient": "top", "labels": false, "title": null, "domain": false, "ticks": false, "tickSize": 0,
                "values": [-0.8,-0.7,-0.6,-0.4,-0.3,-0.2,-0.1,0.1,0.2,0.3,0.4,0.6,0.7,0.8,0.9,1.1,1.2,1.3,1.4,1.6,1.7,1.8,1.9,2.1,2.2],
                "grid": true, "gridColor": "black", "gridWidth": 1, "gridOpacity": 1, "gridDash": [8, 366, 8, 2000]}
            },
            "y": {
              "field": "n", "type": "quantitative",
              "scale": {"type": "log", "domain": [0.0275, 33000], "nice": false, "clamp": true},
              "axis": {"orient": "right", "labels": false, "title": null, "domain": false, "ticks": false, "tickSize": 0,
                "values": [0.03,0.04,0.05,0.06,0.07,0.08,0.09,0.2,0.3,0.4,0.5,0.6,0.7,0.8,0.9,2,3,4,5,6,7,8,9,20,30,40,50,60,70,80,90,200,300,400,500,600,700,800,900,2000,3000,4000,5000,6000,7000,8000,9000,20000,30000],
                "grid": true, "gridColor": "black", "gridWidth": 1, "gridOpacity": 1, "gridDash": [10, 605, 10, 2000]}
            }
          }
        }
      ],
      "resolve": {"scale": {"x": "independent", "y": "independent"}}
    },
    {
      "width": 625,
      "height": 89,
      "layer": [
        {
          "layer": [
            {
              "data": {"name": "rband"},
              "mark": {
                "type": "area", "orient": "vertical", "interpolate": "step-after", "clip": true, "opacity": 1,
                "fill": {
                  "gradient": "linear", "x1": 1, "y1": 0, "x2": -0.1966, "y2": 0.3787,
                  "stops": [
                    {"offset":0.006,"color":"rgba(0,0,0,0)"},{"offset":0.006,"color":"#000"},{"offset":0.0093,"color":"#000"},{"offset":0.0093,"color":"rgba(0,0,0,0)"},
                    {"offset":0.0282,"color":"rgba(0,0,0,0)"},{"offset":0.0282,"color":"#000"},{"offset":0.0315,"color":"#000"},{"offset":0.0315,"color":"rgba(0,0,0,0)"},
                    {"offset":0.0504,"color":"rgba(0,0,0,0)"},{"offset":0.0504,"color":"#000"},{"offset":0.0537,"color":"#000"},{"offset":0.0537,"color":"rgba(0,0,0,0)"},
                    {"offset":0.0726,"color":"rgba(0,0,0,0)"},{"offset":0.0726,"color":"#000"},{"offset":0.0759,"color":"#000"},{"offset":0.0759,"color":"rgba(0,0,0,0)"},
                    {"offset":0.0949,"color":"rgba(0,0,0,0)"},{"offset":0.0949,"color":"#000"},{"offset":0.0982,"color":"#000"},{"offset":0.0982,"color":"rgba(0,0,0,0)"},
                    {"offset":0.1171,"color":"rgba(0,0,0,0)"},{"offset":0.1171,"color":"#000"},{"offset":0.1204,"color":"#000"},{"offset":0.1204,"color":"rgba(0,0,0,0)"},
                    {"offset":0.1393,"color":"rgba(0,0,0,0)"},{"offset":0.1393,"color":"#000"},{"offset":0.1426,"color":"#000"},{"offset":0.1426,"color":"rgba(0,0,0,0)"},
                    {"offset":0.1615,"color":"rgba(0,0,0,0)"},{"offset":0.1615,"color":"#000"},{"offset":0.1648,"color":"#000"},{"offset":0.1648,"color":"rgba(0,0,0,0)"},
                    {"offset":0.1837,"color":"rgba(0,0,0,0)"},{"offset":0.1837,"color":"#000"},{"offset":0.187,"color":"#000"},{"offset":0.187,"color":"rgba(0,0,0,0)"},
                    {"offset":0.2059,"color":"rgba(0,0,0,0)"},{"offset":0.2059,"color":"#000"},{"offset":0.2092,"color":"#000"},{"offset":0.2092,"color":"rgba(0,0,0,0)"},
                    {"offset":0.2281,"color":"rgba(0,0,0,0)"},{"offset":0.2281,"color":"#000"},{"offset":0.2314,"color":"#000"},{"offset":0.2314,"color":"rgba(0,0,0,0)"},
                    {"offset":0.2503,"color":"rgba(0,0,0,0)"},{"offset":0.2503,"color":"#000"},{"offset":0.2536,"color":"#000"},{"offset":0.2536,"color":"rgba(0,0,0,0)"},
                    {"offset":0.2726,"color":"rgba(0,0,0,0)"},{"offset":0.2726,"color":"#000"},{"offset":0.2759,"color":"#000"},{"offset":0.2759,"color":"rgba(0,0,0,0)"},
                    {"offset":0.2948,"color":"rgba(0,0,0,0)"},{"offset":0.2948,"color":"#000"},{"offset":0.2981,"color":"#000"},{"offset":0.2981,"color":"rgba(0,0,0,0)"},
                    {"offset":0.317,"color":"rgba(0,0,0,0)"},{"offset":0.317,"color":"#000"},{"offset":0.3203,"color":"#000"},{"offset":0.3203,"color":"rgba(0,0,0,0)"},
                    {"offset":0.3392,"color":"rgba(0,0,0,0)"},{"offset":0.3392,"color":"#000"},{"offset":0.3425,"color":"#000"},{"offset":0.3425,"color":"rgba(0,0,0,0)"},
                    {"offset":0.3614,"color":"rgba(0,0,0,0)"},{"offset":0.3614,"color":"#000"},{"offset":0.3647,"color":"#000"},{"offset":0.3647,"color":"rgba(0,0,0,0)"},
                    {"offset":0.3836,"color":"rgba(0,0,0,0)"},{"offset":0.3836,"color":"#000"},{"offset":0.3869,"color":"#000"},{"offset":0.3869,"color":"rgba(0,0,0,0)"},
                    {"offset":0.4058,"color":"rgba(0,0,0,0)"},{"offset":0.4058,"color":"#000"},{"offset":0.4091,"color":"#000"},{"offset":0.4091,"color":"rgba(0,0,0,0)"},
                    {"offset":0.428,"color":"rgba(0,0,0,0)"},{"offset":0.428,"color":"#000"},{"offset":0.4313,"color":"#000"},{"offset":0.4313,"color":"rgba(0,0,0,0)"},
                    {"offset":0.4503,"color":"rgba(0,0,0,0)"},{"offset":0.4503,"color":"#000"},{"offset":0.4536,"color":"#000"},{"offset":0.4536,"color":"rgba(0,0,0,0)"},
                    {"offset":0.4725,"color":"rgba(0,0,0,0)"},{"offset":0.4725,"color":"#000"},{"offset":0.4758,"color":"#000"},{"offset":0.4758,"color":"rgba(0,0,0,0)"},
                    {"offset":0.4947,"color":"rgba(0,0,0,0)"},{"offset":0.4947,"color":"#000"},{"offset":0.498,"color":"#000"},{"offset":0.498,"color":"rgba(0,0,0,0)"},
                    {"offset":0.5169,"color":"rgba(0,0,0,0)"},{"offset":0.5169,"color":"#000"},{"offset":0.5202,"color":"#000"},{"offset":0.5202,"color":"rgba(0,0,0,0)"},
                    {"offset":0.5391,"color":"rgba(0,0,0,0)"},{"offset":0.5391,"color":"#000"},{"offset":0.5424,"color":"#000"},{"offset":0.5424,"color":"rgba(0,0,0,0)"},
                    {"offset":0.5613,"color":"rgba(0,0,0,0)"},{"offset":0.5613,"color":"#000"},{"offset":0.5646,"color":"#000"},{"offset":0.5646,"color":"rgba(0,0,0,0)"},
                    {"offset":0.5835,"color":"rgba(0,0,0,0)"},{"offset":0.5835,"color":"#000"},{"offset":0.5868,"color":"#000"},{"offset":0.5868,"color":"rgba(0,0,0,0)"},
                    {"offset":0.6058,"color":"rgba(0,0,0,0)"},{"offset":0.6058,"color":"#000"},{"offset":0.6091,"color":"#000"},{"offset":0.6091,"color":"rgba(0,0,0,0)"},
                    {"offset":0.628,"color":"rgba(0,0,0,0)"},{"offset":0.628,"color":"#000"},{"offset":0.6313,"color":"#000"},{"offset":0.6313,"color":"rgba(0,0,0,0)"},
                    {"offset":0.6502,"color":"rgba(0,0,0,0)"},{"offset":0.6502,"color":"#000"},{"offset":0.6535,"color":"#000"},{"offset":0.6535,"color":"rgba(0,0,0,0)"},
                    {"offset":0.6724,"color":"rgba(0,0,0,0)"},{"offset":0.6724,"color":"#000"},{"offset":0.6757,"color":"#000"},{"offset":0.6757,"color":"rgba(0,0,0,0)"},
                    {"offset":0.6946,"color":"rgba(0,0,0,0)"},{"offset":0.6946,"color":"#000"},{"offset":0.6979,"color":"#000"},{"offset":0.6979,"color":"rgba(0,0,0,0)"},
                    {"offset":0.7168,"color":"rgba(0,0,0,0)"},{"offset":0.7168,"color":"#000"},{"offset":0.7201,"color":"#000"},{"offset":0.7201,"color":"rgba(0,0,0,0)"},
                    {"offset":0.739,"color":"rgba(0,0,0,0)"},{"offset":0.739,"color":"#000"},{"offset":0.7423,"color":"#000"},{"offset":0.7423,"color":"rgba(0,0,0,0)"},
                    {"offset":0.7612,"color":"rgba(0,0,0,0)"},{"offset":0.7612,"color":"#000"},{"offset":0.7645,"color":"#000"},{"offset":0.7645,"color":"rgba(0,0,0,0)"},
                    {"offset":0.7835,"color":"rgba(0,0,0,0)"},{"offset":0.7835,"color":"#000"},{"offset":0.7868,"color":"#000"},{"offset":0.7868,"color":"rgba(0,0,0,0)"},
                    {"offset":0.8057,"color":"rgba(0,0,0,0)"},{"offset":0.8057,"color":"#000"},{"offset":0.809,"color":"#000"},{"offset":0.809,"color":"rgba(0,0,0,0)"},
                    {"offset":0.8279,"color":"rgba(0,0,0,0)"},{"offset":0.8279,"color":"#000"},{"offset":0.8312,"color":"#000"},{"offset":0.8312,"color":"rgba(0,0,0,0)"},
                    {"offset":0.8501,"color":"rgba(0,0,0,0)"},{"offset":0.8501,"color":"#000"},{"offset":0.8534,"color":"#000"},{"offset":0.8534,"color":"rgba(0,0,0,0)"},
                    {"offset":0.8723,"color":"rgba(0,0,0,0)"},{"offset":0.8723,"color":"#000"},{"offset":0.8756,"color":"#000"},{"offset":0.8756,"color":"rgba(0,0,0,0)"},
                    {"offset":0.8945,"color":"rgba(0,0,0,0)"},{"offset":0.8945,"color":"#000"},{"offset":0.8978,"color":"#000"},{"offset":0.8978,"color":"rgba(0,0,0,0)"},
                    {"offset":0.9167,"color":"rgba(0,0,0,0)"},{"offset":0.9167,"color":"#000"},{"offset":0.92,"color":"#000"},{"offset":0.92,"color":"rgba(0,0,0,0)"},
                    {"offset":0.9389,"color":"rgba(0,0,0,0)"},{"offset":0.9389,"color":"#000"},{"offset":0.9422,"color":"#000"},{"offset":0.9422,"color":"rgba(0,0,0,0)"},
                    {"offset":0.9612,"color":"rgba(0,0,0,0)"},{"offset":0.9612,"color":"#000"},{"offset":0.9645,"color":"#000"},{"offset":0.9645,"color":"rgba(0,0,0,0)"},
                    {"offset":0.9834,"color":"rgba(0,0,0,0)"},{"offset":0.9834,"color":"#000"},{"offset":0.9867,"color":"#000"},{"offset":0.9867,"color":"rgba(0,0,0,0)"}
                  ]
                }
              },
              "encoding": {
                "x": {
                  "field": "x", "type": "quantitative",
                  "scale": {"domain": [-0.9, 2.3], "nice": false, "zero": false},
                  "axis": {"orient": "bottom", "title": null, "domain": false, "ticks": false, "tickSize": 0, "values": [-0.5, 0, 0.5, 1, 1.5, 2], "format": "~g", "labelPadding": 5,
                    "grid": true, "gridColor": "black", "gridWidth": 1, "gridOpacity": 1, "gridDash": [10, 69, 10, 2000]}
                },
                "y": {
                  "field": "hi", "type": "quantitative",
                  "scale": {"domain": [0, 2.2], "nice": false, "zero": false},
                  "axis": {
                    "orient": "left", "title": "Data/SM", "titleX": -42, "titleBaseline": "alphabetic",
                    "domain": false, "ticks": false, "tickSize": 0, "labelPadding": 4, "values": [0, 1, 2], "format": "~g",
                    "grid": true, "gridColor": "black", "gridWidth": 1, "gridOpacity": 1, "gridDash": [12, 601, 12, 2000]
                  }
                },
                "y2": {"field": "lo"}
              }
            },
            {
              "data": {"values": [{}]},
              "mark": {"type": "rule", "color": "black", "strokeWidth": 1, "strokeDash": [1.5, 2.5]},
              "encoding": {"y": {"datum": 1}}
            },
            {
              "data": {"values": [{}]},
              "mark": {"type": "rule", "color": "black", "strokeWidth": 1, "strokeDash": [1.5, 2.5]},
              "encoding": {"y": {"datum": 2}}
            },
            {
              "data": {"name": "ratio"},
              "mark": {"type": "rule", "color": "black", "strokeWidth": 1.5, "clip": true},
              "encoding": {
                "x": {"field": "x", "type": "quantitative"},
                "y": {"field": "lo", "type": "quantitative"},
                "y2": {"field": "hi"}
              }
            },
            {
              "data": {"name": "ratio"},
              "mark": {"type": "point", "filled": true, "color": "black", "size": 55, "opacity": 1},
              "encoding": {
                "x": {"field": "x", "type": "quantitative"},
                "y": {"field": "r", "type": "quantitative"}
              }
            },
            {
              "data": {"values": [{}]},
              "mark": {"type": "rule", "color": "#ff0000", "strokeWidth": 2.5},
              "encoding": {
                "x": {"datum": -0.6},
                "y": {"datum": 1.21},
                "y2": {"datum": 1.65}
              }
            },
            {
              "data": {"values": [{}]},
              "mark": {"type": "point", "shape": "M0,-1L0.8,1L-0.8,1Z", "filled": true, "color": "#ff0000", "size": 100, "opacity": 1},
              "encoding": {
                "x": {"datum": -0.6},
                "y": {"datum": 1.74}
              }
            },
            {
              "data": {"values": [{}]},
              "mark": {"type": "text", "text": "cosh", "fontSize": 26, "align": "right", "baseline": "alphabetic", "dx": -31, "color": "black"},
              "encoding": {
                "x": {"datum": 2.3},
                "y": {"datum": -1.4}
              }
            },
            {
              "data": {"values": [{}]},
              "mark": {"type": "text", "text": "max", "fontSize": 16.5, "align": "right", "baseline": "alphabetic", "dx": -2, "color": "black"},
              "encoding": {
                "x": {"datum": 2.3},
                "y": {"datum": -1.65}
              }
            }
          ]
        },
        {
          "data": {"name": "ratio"},
          "mark": {"type": "point", "opacity": 0},
          "encoding": {
            "x": {
              "field": "x", "type": "quantitative",
              "scale": {"domain": [-0.9, 2.3], "nice": false, "zero": false},
              "axis": {"orient": "top", "labels": false, "title": null, "domain": false, "ticks": false, "tickSize": 0,
                "values": [-0.8,-0.7,-0.6,-0.4,-0.3,-0.2,-0.1,0.1,0.2,0.3,0.4,0.6,0.7,0.8,0.9,1.1,1.2,1.3,1.4,1.6,1.7,1.8,1.9,2.1,2.2],
                "grid": true, "gridColor": "black", "gridWidth": 1, "gridOpacity": 1, "gridDash": [5, 79, 5, 2000]}
            },
            "y": {
              "field": "r", "type": "quantitative",
              "scale": {"domain": [0, 2.2], "nice": false, "zero": false},
              "axis": {"orient": "right", "labels": false, "title": null, "domain": false, "ticks": false, "tickSize": 0,
                "values": [0.25, 0.5, 0.75, 1.25, 1.5, 1.75],
                "grid": true, "gridColor": "black", "gridWidth": 1, "gridOpacity": 1, "gridDash": [6, 613, 6, 2000]}
            }
          }
        }
      ],
      "resolve": {"scale": {"x": "independent", "y": "independent"}}
    }
  ],
  "config": {
    "font": "Liberation Sans",
    "view": {"stroke": "black", "strokeWidth": 1.2},
    "axis": {
      "domainColor": "black", "domainWidth": 1.2,
      "labelFont": "Liberation Sans", "labelFontSize": 18, "labelColor": "black",
      "titleFont": "Liberation Sans", "titleFontSize": 22, "titleFontWeight": "normal", "titleColor": "black",
      "labelOverlap": false, "labelFlush": false, "zindex": 1
    },
    "legend": {
      "labelFont": "Liberation Sans", "labelFontSize": 18, "labelColor": "black", "padding": 0, "labelLimit": 400
    },
    "text": {"font": "Liberation Sans"}
  }
}
